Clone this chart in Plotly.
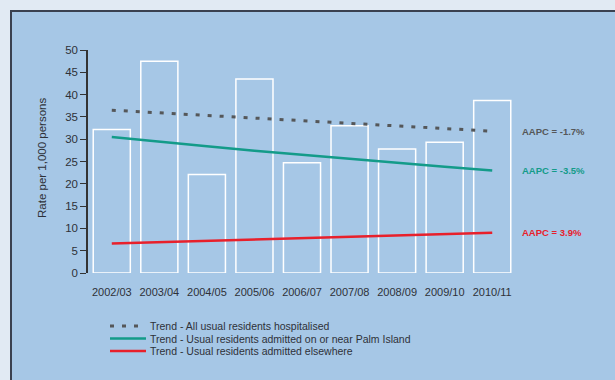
import plotly.graph_objects as go

years = ["2002/03", "2003/04", "2004/05", "2005/06", "2006/07",
         "2007/08", "2008/09", "2009/10", "2010/11"]
all_rates = [32.2, 47.5, 22.1, 43.5, 24.7, 33.0, 27.8, 29.3, 38.7]
trend_all = [36.5, 35.9, 35.3, 34.7, 34.1, 33.5, 32.9, 32.4, 31.8]
trend_palm = [30.5, 29.4, 28.4, 27.4, 26.5, 25.5, 24.6, 23.8, 23.0]
trend_else = [6.6, 6.9, 7.1, 7.4, 7.7, 8.0, 8.3, 8.6, 9.0]
aapc_labels = ["AAPC = -1.7%", "AAPC = -3.5%", "AAPC = 3.9%"]
legend_labels = ["Trend - All usual residents hospitalised",
                 "Trend - Usual residents admitted on or near Palm Island",
                 "Trend - Usual residents admitted elsewhere"]

GRAY = "#555759"
TEAL = "#139b89"
RED = "#e8202b"
PANEL = "#a6c7e6"
OUTER = "#e1eaf3"
TXT = "#2e3138"
FONT = "Liberation Sans, Arial, sans-serif"

fig = go.Figure()
fig.add_trace(go.Bar(x=years, y=all_rates, marker=dict(color="rgba(0,0,0,0)",
                     line=dict(color="white", width=1.5)), showlegend=False,
                     hoverinfo="x+y"))
fig.add_trace(go.Scatter(x=years, y=trend_all, mode="lines", name=legend_labels[0],
                         line=dict(color=GRAY, width=3, dash="4px,8px"), showlegend=False))
fig.add_trace(go.Scatter(x=years, y=trend_palm, mode="lines", name=legend_labels[1],
                         line=dict(color=TEAL, width=2.5), showlegend=False))
fig.add_trace(go.Scatter(x=years, y=trend_else, mode="lines", name=legend_labels[2],
                         line=dict(color=RED, width=2.5), showlegend=False))

L, R, T, B = 88, 99, 50, 107
W, H = 615, 380
pw, ph = W - L - R, H - T - B

def px(x):
    return (x - L) / pw

def py(y):
    return (H - B - y) / ph

shapes = [dict(type="rect", xref="paper", yref="paper",
               x0=px(11), x1=px(660), y0=py(420), y1=py(11),
               fillcolor=PANEL, line=dict(color="#3a4150", width=2), layer="below")]

leg_y = [326, 338.5, 351]
leg_styles = [dict(color=GRAY, width=3, dash="4px,8px"),
              dict(color=TEAL, width=2.5),
              dict(color=RED, width=2.5)]
annotations = []
for yy, st, lab in zip(leg_y, leg_styles, legend_labels):
    shapes.append(dict(type="line", xref="paper", yref="paper",
                       x0=px(110), x1=px(146), y0=py(yy), y1=py(yy), line=st))
    annotations.append(dict(x=px(148), y=py(yy), xref="paper", yref="paper",
                            text=lab, showarrow=False, xanchor="left", yanchor="middle",
                            font=dict(family=FONT, size=10.5, color=TXT)))

for lab, yv, col in zip(aapc_labels, [trend_all[-1], trend_palm[-1], trend_else[-1]],
                        [GRAY, TEAL, RED]):
    annotations.append(dict(x=px(520), y=yv, xref="paper", yref="y", text="<b>%s</b>" % lab,
                            showarrow=False, xanchor="left", yanchor="middle",
                            font=dict(family=FONT, size=9.5, color=col)))

annotations.append(dict(x=px(42), y=py(158), xref="paper", yref="paper",
                        text="Rate per 1,000 persons", textangle=-90, showarrow=False,
                        xanchor="center", yanchor="middle",
                        font=dict(family=FONT, size=11.5, color=TXT)))

fig.update_layout(
    width=W, height=H, margin=dict(l=L, r=R, t=T, b=B, pad=0),
    paper_bgcolor=OUTER, plot_bgcolor="rgba(0,0,0,0)",
    bargap=0.22, shapes=shapes, annotations=annotations,
    font=dict(family=FONT, color=TXT),
    xaxis=dict(showline=False, showgrid=False, zeroline=False, ticks="outside",
               ticklen=9, tickcolor="rgba(0,0,0,0)", range=[-0.5, 8.5],
               tickfont=dict(family=FONT, size=11, color=TXT)),
    yaxis=dict(range=[0, 50], dtick=5, showline=True, linecolor="#333",
               linewidth=1.5, ticks="outside", ticklen=6, tickcolor="#333",
               tickwidth=1.2, showgrid=False, zeroline=False,
               tickfont=dict(family=FONT, size=11.5, color=TXT)),
)

fig.write_html("out.html", config={"displayModeBar": False},
               post_script="document.body.style.margin='0';"
                           "document.body.style.overflow='hidden';"
                           "document.documentElement.style.overflow='hidden';")
